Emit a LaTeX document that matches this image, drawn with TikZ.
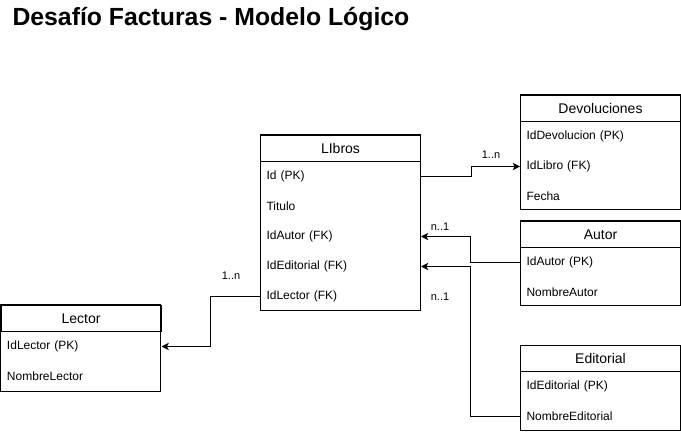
\documentclass[tikz,border=0pt]{standalone}
\usepackage{fontspec}
\setmainfont{Liberation Sans}
\usetikzlibrary{arrows.meta}
\begin{document}
\begin{tikzpicture}[x=0.75pt,y=-0.75pt,
  line width=0.75pt,
  hdr/.style={draw, minimum width=120pt, minimum height=19.5pt, inner sep=0pt, font=\fontsize{10.5}{12}\selectfont, anchor=north west},
  rowbox/.style={minimum height=22.5pt, text width=111pt, inner xsep=4.5pt, inner ysep=0pt, align=left, font=\fontsize{9}{11}\selectfont, anchor=north west},
  conn/.style={-{Stealth[length=5.5pt,width=5.5pt,inset=1.5pt]}},
  card/.style={font=\fontsize{8.25}{10}\selectfont, inner sep=0pt},
  title/.style={font=\fontsize{18.6}{22}\selectfont\bfseries, inner sep=0pt, anchor=base west}
]
\useasboundingbox (0,0) rectangle (681,434);

\node[title] (ttl) at (12,26) {Desafío Facturas - Modelo Lógico};

% Libros
\node[hdr] (libros) at (260,135) {LIbros};
\draw (libros.north west) rectangle ++(160,176);
\node[rowbox] (libros-1) at (260,161) {Id (PK)};
\node[rowbox] (libros-2) at (260,191) {Titulo};
\node[rowbox] (libros-3) at (260,221) {IdAutor (FK)};
\node[rowbox] (libros-4) at (260,251) {IdEditorial (FK)};
\node[rowbox] (libros-5) at (260,281) {IdLector (FK)};

% Devoluciones
\node[hdr] (devol) at (520,95) {Devoluciones};
\draw (devol.north west) rectangle ++(160,115);
\node[rowbox] (devol-1) at (520,121) {IdDevolucion (PK)};
\node[rowbox] (devol-2) at (520,151) {IdLibro (FK)};
\node[rowbox] (devol-3) at (520,181) {Fecha};

% Autor
\node[hdr] (autor) at (520,221) {Autor};
\draw (autor.north west) rectangle ++(160,85);
\node[rowbox] (autor-1) at (520,247) {IdAutor (PK)};
\node[rowbox] (autor-2) at (520,277) {NombreAutor};

% Editorial
\node[hdr] (edit) at (520,345) {Editorial};
\draw (edit.north west) rectangle ++(160,85);
\node[rowbox] (edit-1) at (520,371) {IdEditorial (PK)};
\node[rowbox] (edit-2) at (520,401) {NombreEditorial};

% Lector
\node[hdr] (lector) at (0.5,305) {Lector};
\draw (lector.north west) rectangle ++(160,86);
\node[rowbox] (lector-1) at (0.5,331) {IdLector (PK)};
\node[rowbox] (lector-2) at (0.5,361) {NombreLector};

% Connectors
\draw[conn] (libros-1.east) -- ++(50,0) |- (devol-2.west);
\draw[conn] (autor-1.west) -- ++(-50,0) |- (libros-3.east);
\draw[conn] (edit-2.west) -- ++(-50,0) |- (libros-4.east);
\draw[conn] (libros-5.west) -- ++(-50,0) |- (lector-1.east);

% Cardinalities
\node[card] (c1) at (491,155) {1..n};
\node[card] (c2) at (440,227) {n..1};
\node[card] (c3) at (440,297) {n..1};
\node[card] (c4) at (231,276) {1..n};
\end{tikzpicture}
\end{document}
